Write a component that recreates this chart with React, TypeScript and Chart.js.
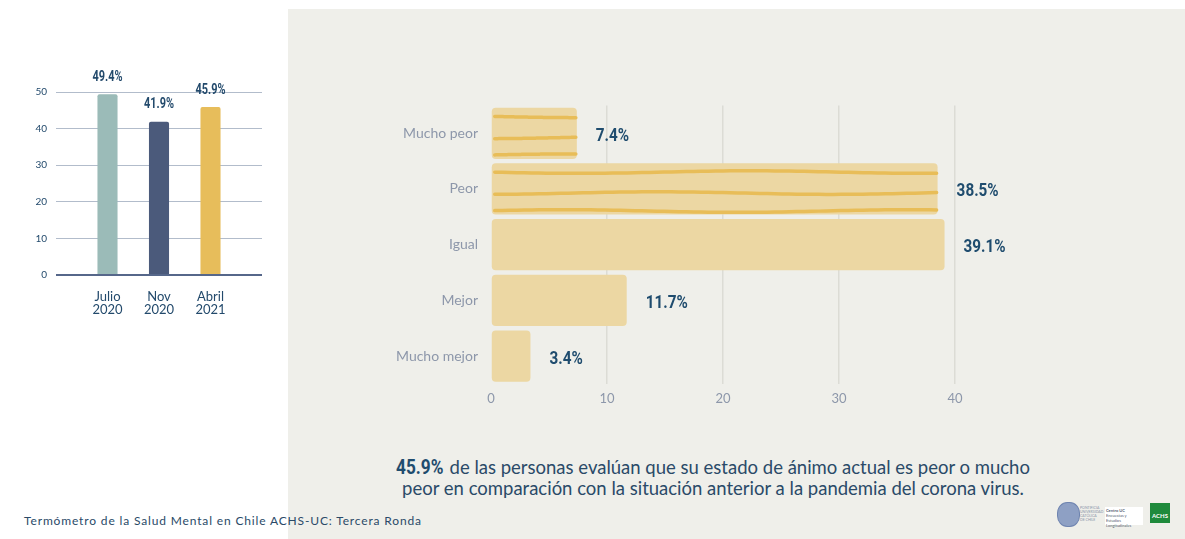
import React, { useEffect, useRef } from 'react';
import { Chart, registerables } from 'chart.js';

Chart.register(...registerables);

// ---- Data ----
const trendCategories = ['', 'Julio 2020', 'Nov 2020', 'Abril 2021', ''];
const trendValues: (number | null)[] = [null, 49.4, 41.9, 45.9, null];
const trendColors = ['rgba(0,0,0,0)', '#9bbbb8', '#4b5a7b', '#e7bd5b', 'rgba(0,0,0,0)'];
const trendTicks = [0, 10, 20, 30, 40, 50];

const moodCategories = ['Mucho peor', 'Peor', 'Igual', 'Mejor', 'Mucho mejor'];
const moodValues = [7.4, 38.5, 39.1, 11.7, 3.4];
const moodStriped = [true, true, false, false, false];
const moodTicks = [0, 10, 20, 30, 40];

const BOLDNUM = "Roboto, 'DejaVu Sans', sans-serif";
const SANS = "Lato, 'Open Sans', sans-serif";
const DARK = '#234a6c';

function drawCondensed(ctx: any, text: string, x: number, y: number, align: string, squeeze: number) {
  ctx.save();
  ctx.translate(x, y);
  ctx.scale(squeeze, 1);
  ctx.textAlign = align;
  ctx.fillText(text, 0, 0);
  ctx.restore();
}

const trendLabelPlugin = {
  id: 'trendLabels',
  afterDatasetsDraw(chart: any) {
    const ctx = chart.ctx;
    const meta = chart.getDatasetMeta(0);
    ctx.save();
    ctx.font = `bold 14px ${BOLDNUM}`;
    ctx.fillStyle = DARK;
    ctx.textBaseline = 'middle';
    meta.data.forEach((el: any, i: number) => {
      const v = trendValues[i];
      if (v == null) return;
      drawCondensed(ctx, `${v.toFixed(1)}%`, el.x, el.y - 17, 'center', 0.78);
    });
    ctx.restore();
  },
};

const moodPlugin = {
  id: 'moodDecor',
  afterDatasetsDraw(chart: any) {
    const ctx = chart.ctx;
    const meta = chart.getDatasetMeta(0);
    ctx.save();
    meta.data.forEach((el: any, i: number) => {
      const h = el.height;
      const top = el.y - h / 2;
      const left = el.base;
      const right = el.x;
      if (moodStriped[i]) {
        ctx.strokeStyle = '#e8bd58';
        ctx.lineWidth = 3.5;
        ctx.lineCap = 'round';
        [0.17, 0.58, 0.93].forEach((f, k) => {
          ctx.beginPath();
          const y0 = top + f * h;
          const x0 = left + 3;
          const x1 = right - 1;
          const steps = 60;
          for (let s = 0; s <= steps; s++) {
            const x = x0 + ((x1 - x0) * s) / steps;
            const y = y0 + 1.3 * Math.sin((x - left) / 55 + k * 1.7);
            if (s === 0) ctx.moveTo(x, y);
            else ctx.lineTo(x, y);
          }
          ctx.stroke();
        });
      }
      ctx.font = `bold 18px ${BOLDNUM}`;
      ctx.fillStyle = '#1f4c6e';
      ctx.textBaseline = 'middle';
      drawCondensed(ctx, `${moodValues[i].toFixed(1)}%`, right + 19, el.y + 3, 'left', 0.85);
    });
    ctx.restore();
  },
};

function TrendChart() {
  const ref = useRef<HTMLCanvasElement>(null);
  useEffect(() => {
    if (!ref.current) return;
    const chart = new Chart(ref.current, {
      type: 'bar',
      data: {
        labels: trendCategories,
        datasets: [
          {
            data: trendValues,
            backgroundColor: trendColors,
            borderRadius: 2,
            borderSkipped: 'bottom',
            categoryPercentage: 1,
            barPercentage: 0.39,
          },
        ],
      },
      options: {
        responsive: false,
        animation: false,
        layout: { padding: { top: 52, right: 18, bottom: 10, left: 0 } },
        plugins: { legend: { display: false }, tooltip: { enabled: false } },
        scales: {
          x: {
            offset: false,
            grid: { display: false, offset: false },
            border: { display: false },
            afterFit: (s: any) => { s.height = 45; },
            ticks: {
              padding: 7,
              color: DARK,
              font: { family: SANS, size: 13, lineHeight: 1.0 },
              maxRotation: 0,
              autoSkip: false,
              callback: (_v: any, i: number) => trendCategories[i].split(' '),
            },
          },
          y: {
            min: 0,
            max: 50,
            afterFit: (s: any) => { s.width = 56; },
            afterBuildTicks: (s: any) => { s.ticks = trendTicks.map((v) => ({ value: v })); },
            border: { display: false },
            grid: {
              drawTicks: false,
              color: (c: any) => (c.tick && c.tick.value === 0 ? '#56678a' : '#b2bccb'),
              lineWidth: (c: any) => (c.tick && c.tick.value === 0 ? 2 : 1),
            },
            ticks: {
              padding: 9,
              color: DARK,
              font: { family: SANS, size: 10 },
            },
          },
        },
      },
      plugins: [trendLabelPlugin],
    } as any);
    return () => chart.destroy();
  }, []);
  return (
    <canvas
      ref={ref}
      width={280}
      height={290}
      style={{ position: 'absolute', left: 0, top: 40, width: 280, height: 290 }}
    />
  );
}

function MoodChart() {
  const ref = useRef<HTMLCanvasElement>(null);
  useEffect(() => {
    if (!ref.current) return;
    const chart = new Chart(ref.current, {
      type: 'bar',
      data: {
        labels: moodCategories,
        datasets: [
          {
            data: moodValues,
            backgroundColor: '#ecd7a3',
            borderRadius: 4,
            borderSkipped: false,
            categoryPercentage: 1,
            barPercentage: 0.92,
          },
        ],
      },
      options: {
        indexAxis: 'y',
        responsive: false,
        animation: false,
        layout: { padding: { top: 0, right: 230, bottom: 10, left: 0 } },
        plugins: { legend: { display: false }, tooltip: { enabled: false } },
        scales: {
          x: {
            min: 0,
            max: 40,
            afterFit: (s: any) => { s.height = 26; },
            afterBuildTicks: (s: any) => { s.ticks = moodTicks.map((v) => ({ value: v })); },
            border: { display: false },
            grid: {
              drawTicks: false,
              color: (c: any) => (c.tick && c.tick.value === 0 ? 'rgba(0,0,0,0)' : '#dcdcd5'),
              lineWidth: 1.5,
            },
            ticks: {
              padding: 7,
              color: '#8d97aa',
              font: { family: SANS, size: 13 },
            },
          },
          y: {
            afterFit: (s: any) => { s.width = 201; },
            border: { display: false },
            grid: { display: false, drawTicks: false },
            ticks: {
              padding: 13,
              color: '#8d97aa',
              font: { family: SANS, size: 14 },
            },
          },
        },
      },
      plugins: [moodPlugin],
    } as any);
    return () => chart.destroy();
  }, []);
  return (
    <canvas
      ref={ref}
      width={895}
      height={336}
      style={{ position: 'absolute', left: 290, top: 84, width: 895, height: 336 }}
    />
  );
}

export default function App() {
  return (
    <div
      style={{
        position: 'fixed',
        left: 0,
        top: 0,
        width: 1185,
        height: 539,
        overflow: 'hidden',
        background: '#ffffff',
        fontFamily: SANS,
      }}
    >
      <div
        style={{
          position: 'absolute',
          left: 288,
          top: 9,
          right: 0,
          bottom: 0,
          background: '#efefea',
        }}
      />
      <TrendChart />
      <MoodChart />
      <div
        style={{
          position: 'absolute',
          left: 313,
          top: 457,
          width: 800,
          textAlign: 'center',
          color: '#2a4a68',
          fontSize: 18.5,
          lineHeight: '21px',
          fontFamily: SANS,
          whiteSpace: 'nowrap',
        }}
      >
        <span
          style={{
            display: 'inline-block',
            fontFamily: BOLDNUM,
            fontWeight: 'bold',
            fontSize: 21,
            color: '#1f4c6e',
            transform: 'scaleX(0.82)',
            transformOrigin: 'left center',
            marginRight: -9,
          }}
        >
          45.9%
        </span>{' '}
        de las personas evalúan que su estado de ánimo actual es peor o mucho
        <br />
        peor en comparación con la situación anterior a la pandemia del corona virus.
      </div>
      <div
        style={{
          position: 'absolute',
          left: 24,
          top: 513,
          fontSize: 12,
          lineHeight: '16px',
          letterSpacing: 0.85,
          color: '#2a4a68',
          fontFamily: SANS,
          whiteSpace: 'nowrap',
        }}
      >
        Termómetro de la Salud Mental en Chile ACHS-UC: Tercera Ronda
      </div>
      {/* logos */}
      <div
        style={{
          position: 'absolute',
          left: 1057,
          top: 502,
          width: 21,
          height: 23,
          borderRadius: '45%',
          background: '#8ea0c4',
          border: '1px solid #6f84b0',
        }}
      />
      <div
        style={{
          position: 'absolute',
          left: 1080,
          top: 506,
          fontSize: 3.5,
          lineHeight: '4px',
          color: '#8a94a8',
          width: 20,
        }}
      >
        PONTIFICIA UNIVERSIDAD CATÓLICA DE CHILE
      </div>
      <div
        style={{
          position: 'absolute',
          left: 1105,
          top: 507,
          width: 36,
          height: 16,
          background: '#ffffff',
          fontSize: 4,
          lineHeight: '5px',
          color: '#556070',
          padding: 1,
        }}
      >
        <b>Centro UC</b> Encuestas y Estudios Longitudinales
      </div>
      <div
        style={{
          position: 'absolute',
          left: 1150,
          top: 503,
          width: 20,
          height: 20,
          background: '#1f8a3c',
          color: '#ffffff',
          fontSize: 6,
          fontWeight: 'bold',
          textAlign: 'center',
          lineHeight: '26px',
        }}
      >
        ACHS
      </div>
    </div>
  );
}
